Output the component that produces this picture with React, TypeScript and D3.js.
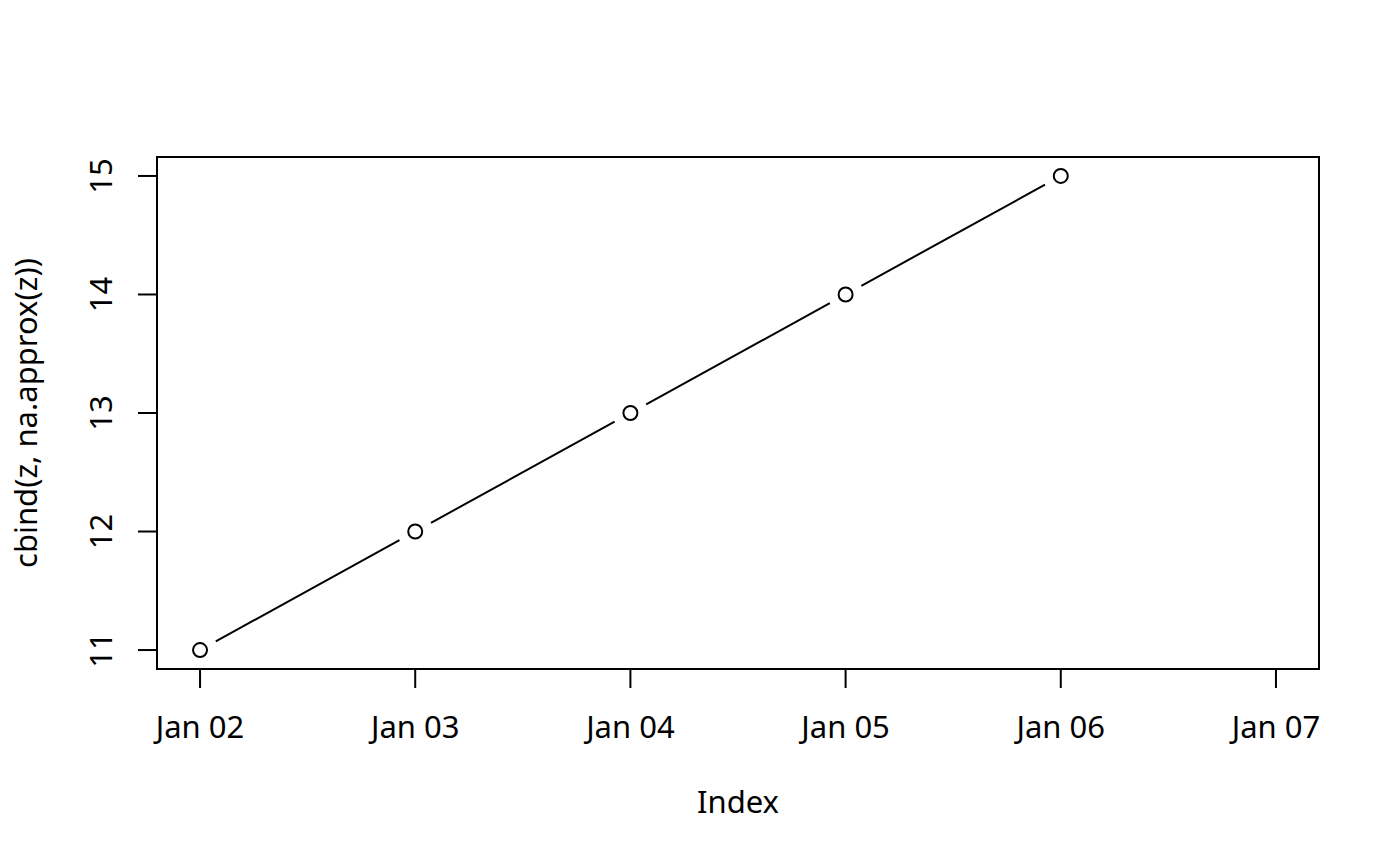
import { useEffect, useRef } from "react";
import * as d3 from "d3";

// dates in the index (Jan 07 has no value in either column)
const dates = ["2000-01-02", "2000-01-03", "2000-01-04", "2000-01-05", "2000-01-06", "2000-01-07"];
const values: (number | null)[] = [11, 12, 13, 14, 15, null];
const yTicks = [11, 12, 13, 14, 15];

const WIDTH = 1400;
const HEIGHT = 866;
const FONT = "'Noto Sans', 'Open Sans', sans-serif";
const FONT_SIZE = 31;

export default function App() {
  const svgRef = useRef<SVGSVGElement>(null);

  useEffect(() => {
    if (!svgRef.current) return;
    const svg = d3.select(svgRef.current);
    svg.selectAll("*").remove();

    const box = { left: 157, right: 1319, top: 157, bottom: 669 };
    const parse = d3.timeParse("%Y-%m-%d");
    const xDates = dates.map((d) => parse(d) as Date);

    // R style 4% padding on both ends
    const xMin = +xDates[0];
    const xMax = +xDates[xDates.length - 1];
    const xPad = (xMax - xMin) * 0.04;
    const x = d3
      .scaleTime()
      .domain([new Date(xMin - xPad), new Date(xMax + xPad)])
      .range([box.left, box.right]);

    const yVals = values.filter((v): v is number => v != null);
    const yLo = d3.min(yVals) as number;
    const yHi = d3.max(yVals) as number;
    const yPad = (yHi - yLo) * 0.04;
    const y = d3.scaleLinear().domain([yLo - yPad, yHi + yPad]).range([box.bottom, box.top]);

    const tickLen = 19;

    // ── Plot frame ────────────────────────────────────────────────
    svg
      .append("rect")
      .attr("x", box.left)
      .attr("y", box.top)
      .attr("width", box.right - box.left)
      .attr("height", box.bottom - box.top)
      .attr("fill", "none")
      .attr("stroke", "#000")
      .attr("stroke-width", 2);

    // ── X axis ────────────────────────────────────────────────────
    const xAxis = svg.append("g");
    xDates.forEach((d) => {
      xAxis
        .append("line")
        .attr("x1", x(d))
        .attr("x2", x(d))
        .attr("y1", box.bottom)
        .attr("y2", box.bottom + tickLen)
        .attr("stroke", "#000")
        .attr("stroke-width", 2);
      xAxis
        .append("text")
        .attr("x", x(d))
        .attr("y", 738)
        .attr("text-anchor", "middle")
        .attr("font-family", FONT)
        .attr("font-size", FONT_SIZE)
        .text(d3.timeFormat("%b %d")(d));
    });

    // ── Y axis ────────────────────────────────────────────────────
    const yAxis = svg.append("g");
    yTicks.forEach((t) => {
      yAxis
        .append("line")
        .attr("x1", box.left - tickLen)
        .attr("x2", box.left)
        .attr("y1", y(t))
        .attr("y2", y(t))
        .attr("stroke", "#000")
        .attr("stroke-width", 2);
      yAxis
        .append("text")
        .attr("transform", `translate(112,${y(t)}) rotate(-90)`)
        .attr("text-anchor", "middle")
        .attr("font-family", FONT)
        .attr("font-size", FONT_SIZE)
        .text(String(t));
    });

    // ── Axis titles ───────────────────────────────────────────────
    svg
      .append("text")
      .attr("x", (box.left + box.right) / 2)
      .attr("y", 813)
      .attr("text-anchor", "middle")
      .attr("font-family", FONT)
      .attr("font-size", FONT_SIZE)
      .text("Index");

    svg
      .append("text")
      .attr("transform", `translate(37,${(box.top + box.bottom) / 2}) rotate(-90)`)
      .attr("text-anchor", "middle")
      .attr("font-family", FONT)
      .attr("font-size", FONT_SIZE)
      .text("cbind(z, na.approx(z))");

    // ── Series, type = "b" (gapped lines + open circles) ─────────
    const pts = xDates
      .map((d, i) => ({ d, v: values[i] }))
      .filter((p) => p.v != null)
      .map((p) => ({ px: x(p.d), py: y(p.v as number) }));

    const gap = 18;
    for (let i = 0; i < pts.length - 1; i++) {
      const a = pts[i];
      const b = pts[i + 1];
      const dx = b.px - a.px;
      const dy = b.py - a.py;
      const len = Math.hypot(dx, dy);
      if (len <= gap * 2) continue;
      const ux = dx / len;
      const uy = dy / len;
      svg
        .append("line")
        .attr("x1", a.px + ux * gap)
        .attr("y1", a.py + uy * gap)
        .attr("x2", b.px - ux * gap)
        .attr("y2", b.py - uy * gap)
        .attr("stroke", "#000")
        .attr("stroke-width", 2);
    }

    svg
      .selectAll(".pt")
      .data(pts)
      .enter()
      .append("circle")
      .attr("class", "pt")
      .attr("cx", (p) => p.px)
      .attr("cy", (p) => p.py)
      .attr("r", 7)
      .attr("fill", "none")
      .attr("stroke", "#000")
      .attr("stroke-width", 2);
  }, []);

  return (
    <svg
      ref={svgRef}
      width={WIDTH}
      height={HEIGHT}
      viewBox={`0 0 ${WIDTH} ${HEIGHT}`}
      style={{ position: "absolute", left: 0, top: 0, background: "#fff" }}
    />
  );
}
